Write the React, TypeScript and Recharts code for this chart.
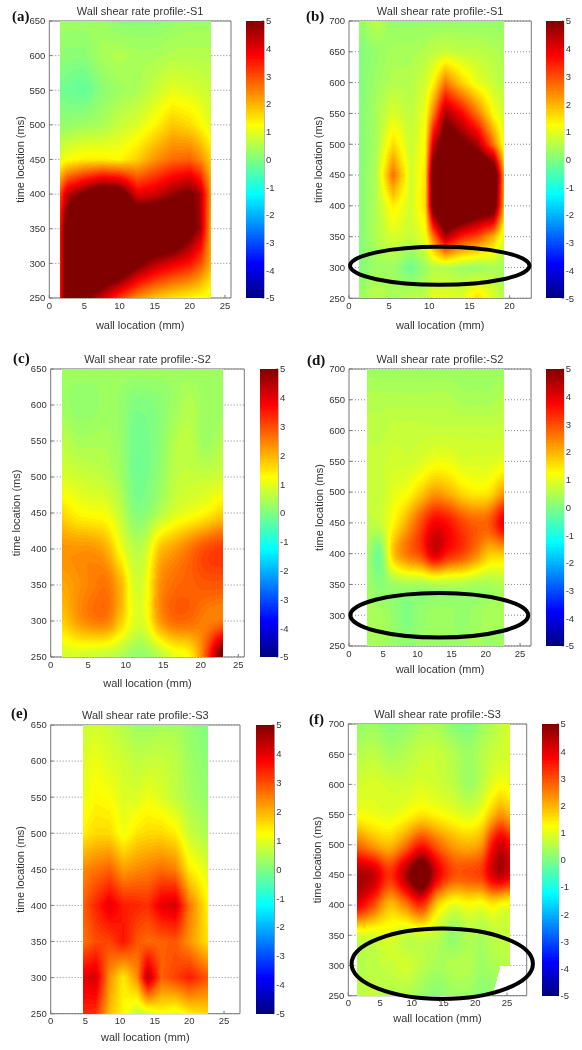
import { ScatterChart, Scatter, XAxis, YAxis, CartesianGrid } from "recharts";

const FONT = "'Liberation Sans', Arial, sans-serif";
const INK = "#333";
const FRAME = "#777";

// values, rows run from the top of each plot downwards
const timesTo650 = [650, 600, 550, 500, 450, 400, 350, 300, 250];
const timesTo700 = [700, 650, 600, 550, 500, 450, 400, 350, 300, 250];
const barLevels = [5, 4, 3, 2, 1, 0, -1, -2, -3, -4, -5];
const ticks650 = [250, 300, 350, 400, 450, 500, 550, 600, 650];
const ticks700 = [250, 300, 350, 400, 450, 500, 550, 600, 650, 700];
const wallTicks25 = [0, 5, 10, 15, 20, 25];
const wallTicks20 = [0, 5, 10, 15, 20];

const wallA = [1.5, 2.5, 5, 7.5, 10, 12.5, 15, 17.5, 20, 21.5, 23];
const rateA = [
  [0.3, 0.3, 0.3, 0.3, 0.1, 0.1, 0.1, 0.2, 0.3, 0.3, 0.3],
  [0.2, 0.1, 0.1, 0.4, 0.5, 0.4, 0.4, 0.5, 0.5, 0.5, 0.5],
  [-0.1, -0.2, -0.3, 0.1, 0.3, 0.4, 0.7, 1, 0.9, 0.8, 0.7],
  [0.2, 0.2, 0.3, 0.4, 0.7, 0.9, 1.3, 1.8, 1.6, 1.3, 0.9],
  [1, 1.2, 1.4, 1.4, 1.3, 1.7, 2.3, 2.7, 2.8, 2.4, 1.7],
  [3, 4.3, 5.2, 6, 5.8, 4, 4.2, 4.8, 5.2, 4.5, 2.2],
  [3.5, 6, 7, 7, 7, 7, 7, 7, 5.5, 4.6, 2],
  [3.5, 6, 7, 7, 6.5, 5.3, 4.5, 4, 3.6, 3, 2],
  [3.5, 6, 5.2, 4.2, 3.2, 2.3, 1.8, 1.5, 1.3, 1.2, 1],
];

const wallB = [1.2, 3.4, 5.5, 7.7, 9.5, 10.5, 12, 14, 16, 18, 19.3];
const rateB = [
  [0.2, 0.6, 0.2, 0.2, 0.2, 0.2, 0.2, 0.2, 0.2, 0.2, 0.2],
  [0, 0.2, 0.4, 0.4, 0.5, 0.6, 0.7, 0.6, 0.6, 0.5, 0.4],
  [0, 0.3, 0.5, 0.5, 0.8, 1.3, 2.6, 1.7, 1, 0.7, 0.5],
  [0, 0.4, 0.9, 0.6, 1.1, 2.5, 4.6, 3.8, 2.6, 1.2, 0.8],
  [0, 0.4, 1.6, 0.7, 1.3, 4.2, 6, 5.3, 4.6, 2.6, 1],
  [0, 0.5, 2.7, 0.8, 1.5, 5.8, 7, 7, 6.8, 6.5, 2.2],
  [0, 0.5, 1.4, 0.8, 1.6, 5.6, 7, 7, 6.2, 6, 2],
  [0, 0.5, 0.9, 0.7, 1.1, 2.6, 4.6, 3.5, 3, 2, 0.9],
  [0, 0.3, 0.3, -0.2, 0.3, 0.5, 0.5, 0.3, 0.2, 0.4, 0.3],
  [0.3, 0.6, 0.4, 0.6, 0.6, 1, 1, 0.9, 1.6, 0.9, 0.5],
];

const wallC = [1.5, 3.5, 5.5, 7.5, 9.5, 11, 12.5, 14.5, 16.5, 18.5, 20.5, 23];
const rateC = [
  [0.3, 0.3, 0.3, 0.3, 0.3, 0.3, 0.3, 0.3, 0.3, 0.3, 0.3, 0.3],
  [0.3, 0.2, 0.2, 0.3, 0.2, 0, 0, 0.1, 0.3, 0.5, 0.3, 0.3],
  [0.6, 0.4, 0.4, 0.4, 0.2, -0.1, -0.1, 0.1, 0.5, 0.6, 0.3, 0.5],
  [0.9, 0.8, 0.7, 0.6, 0.3, -0.1, -0.1, 0.2, 0.6, 0.7, 0.7, 0.8],
  [1.6, 1.3, 1.2, 1.1, 0.6, 0.1, 0.1, 0.5, 0.9, 1.1, 1.3, 1.7],
  [2.3, 2.3, 2.3, 2, 1.1, 0.6, 0.7, 1.8, 2.2, 2.6, 3, 3.2],
  [2.1, 2.3, 2.5, 2.6, 1.9, 0.9, 1, 2.3, 2.7, 2.8, 2.9, 2.9],
  [1.7, 2.2, 2.5, 2.5, 1.7, 1, 1, 2.2, 2.7, 2.7, 2.5, 2.6],
  [0.8, 0.8, 0.7, 0.6, 0.4, 0.2, 0.2, 0.5, 1, 1.3, 2.8, 5.5],
];

const wallD = [2.6, 4.5, 6.5, 8.5, 10.5, 12.5, 14.5, 16.5, 18.5, 20.5, 22.6];
const rateD = [
  [0.3, 0.3, 0.3, 0.3, 0.3, 0.3, 0.3, 0.3, 0.3, 0.3, 0.3],
  [0.5, 0.5, 0.5, 0.5, 0.5, 0.5, 0.5, 0.4, 0.4, 0.4, 0.5],
  [0.6, 0.6, 0.7, 0.7, 0.7, 0.7, 0.7, 0.7, 0.7, 0.7, 0.7],
  [0.7, 0.7, 0.8, 0.8, 0.9, 1.1, 1.1, 0.9, 0.9, 0.9, 1],
  [0.7, 0.7, 1, 1.2, 1.7, 2.2, 2, 1.6, 1.4, 1.5, 2.2],
  [0.6, 0.7, 1.3, 2.1, 3, 3.8, 3.6, 3.1, 2.8, 2.9, 3.9],
  [0.4, -0.1, 1.8, 2.6, 3.1, 4.1, 3.5, 3.1, 2.5, 1.8, 1.8],
  [0.3, 0.1, 0.3, 0.4, 0.4, 0.5, 0.5, 0.5, 0.4, 0.4, 0.5],
  [0.4, 0.4, 0.2, 0, 0.2, 0.3, 0.3, 0.2, 0.3, 0.4, 0.4],
  [0.4, 0.4, 0.3, 0.2, 0.3, 0.3, 0.3, 0.3, 0.4, 0.3, 0.3],
];

const wallE = [4.6, 6.5, 8.5, 10.5, 12.5, 14, 16, 18, 20, 22.7];
const rateE = [
  [0.7, 0.8, 0.7, 0.5, 0.3, 0.3, 0.4, 0.4, 0.2, 0],
  [0.9, 1.1, 0.9, 0.8, 0.6, 0.7, 0.7, 0.6, 0.3, 0.1],
  [1, 1.3, 1.2, 0.9, 0.9, 1.1, 0.9, 0.6, 0.4, 0.2],
  [1.4, 1.6, 1.6, 1.1, 1.5, 1.6, 1.6, 1.4, 0.7, 0.4],
  [2.4, 2.6, 2.8, 2.2, 2.4, 2.5, 2.7, 2.5, 1.4, 0.9],
  [2.8, 3.4, 4, 3.5, 3.4, 3.3, 4, 4.2, 2.6, 1.3],
  [2.6, 3, 3.1, 3.6, 2.9, 2.7, 2.8, 2.9, 2.3, 1.5],
  [4, 4.2, 2.3, 1.4, 2.4, 4.5, 2.8, 3.1, 3.5, 2.9],
  [3.4, 3.3, 1.9, 1.3, 0.6, 0.8, 1.2, 1, 1.4, 1.6],
];

const wallF = [1.4, 4, 6.5, 9, 11.5, 14, 16.5, 19, 21, 22.7, 24, 25.4];
const rateF = [
  [0.2, 0.3, 0.1, 0.2, 0.4, 0.4, 0.1, 0, 0.3, 0.5, 0.7, 0.8],
  [0.5, 0.6, 0.4, 0.5, 0.7, 0.7, 0.5, 0.3, 0.5, 0.7, 0.8, 0.8],
  [0.8, 0.9, 0.8, 0.8, 0.9, 0.8, 0.6, 0.3, 0.6, 1, 1.2, 1.1],
  [1.2, 1.1, 1, 1.2, 1.5, 1.3, 1.1, 0.9, 1.2, 1.9, 2.3, 2],
  [2.7, 2.2, 1.9, 2.6, 3.5, 2.8, 2.2, 2, 2.3, 3.6, 4.2, 3.8],
  [4.6, 4.3, 3.3, 4.5, 5.8, 4, 3, 3, 3.2, 4.1, 4.4, 4],
  [3.9, 3, 1.9, 2.5, 3.3, 1.7, 1, 1.2, 1.1, 1.4, 1.2, 1.1],
  [0.9, 0.9, 1, 0.7, 0.8, 0.6, 0.2, 0.5, 0.4, 0.6, 0.7, 0.7],
  [0.5, 0.6, 0.7, 0.8, 0.6, 0.4, 0.5, 0.5, 0.3, 0.4, 0.5, 0.5],
  [0.6, 0.7, 0.5, 0.5, 0.3, 0.1, 0.3, 0.3, 0.1, 0.1, null, null],
];

type Grid = (number | null)[][];

function jet(v: number) {
  const t = (Math.max(-5, Math.min(5, v)) + 5) / 10;
  const ch = (c: number) => Math.round(255 * Math.max(0, Math.min(1, 1.5 - Math.abs(4 * t - c))));
  return `rgb(${ch(3)},${ch(2)},${ch(1)})`;
}

const spline = (p0: number, p1: number, p2: number, p3: number, t: number) =>
  0.5 * (2 * p1 + (p2 - p0) * t + (2 * p0 - 5 * p1 + 4 * p2 - p3) * t * t + (3 * p1 - p0 - 3 * p2 + p3) * t * t * t);

// smooth shading over the 4x4 neighbourhood of a patch, null when a neighbour is missing
function splineAt(grid: Grid, row: number, col: number, u: number, v: number) {
  const rows = [row - 1, row, row + 1, row + 2].map((r) => Math.max(0, Math.min(grid.length - 1, r)));
  const cols = [col - 1, col, col + 1, col + 2].map((k) => Math.max(0, Math.min(grid[0].length - 1, k)));
  const across: number[] = [];
  for (const r of rows) {
    const vals = cols.map((k) => grid[r][k]);
    if (vals.some((x) => x === null)) return null;
    const [p0, p1, p2, p3] = vals as number[];
    across.push(spline(p0, p1, p2, p3, u));
  }
  return spline(across[0], across[1], across[2], across[3], v);
}

// one data point paints the patch between itself and its right/lower neighbours (like shading interp)
function heatCell(wall: number[], times: number[], grid: Grid, pxX: number, pxY: number, band: number, smooth = false) {
  return function HeatCell(props: any) {
    const { cx, cy, payload } = props;
    const { col, row } = payload;
    if (col >= wall.length - 1 || row >= times.length - 1) return null;
    const w = (wall[col + 1] - wall[col]) * pxX;
    const h = (times[row] - times[row + 1]) * pxY;
    const corners = [grid[row][col], grid[row][col + 1], grid[row + 1][col], grid[row + 1][col + 1]];
    const gaps = corners.filter((c) => c === null).length;
    if (gaps > 1) return null;
    const a = corners[0] as number;
    const b = corners[1] as number;
    const c = corners[2] as number;
    const d = corners[3] === null ? b + c - a : (corners[3] as number);
    const cuts = corners[3] === null;
    const bands = new Map<string, string>();
    const left = Math.round(cx);
    const right = Math.round(cx + w);
    const top = Math.round(cy);
    const bottom = Math.round(cy + h);
    for (let py = top; py < bottom; py++) {
      let runStart = left;
      let runColor = "";
      for (let px = left; px <= right; px++) {
        let color = "";
        if (px < right) {
          const u = (px + 0.5 - cx) / w;
          const v = (py + 0.5 - cy) / h;
          if (!(cuts && u + v > 1)) {
            const soft = smooth ? splineAt(grid, row, col, u, v) : null;
            const raw = soft ?? a * (1 - u) * (1 - v) + b * u * (1 - v) + c * (1 - u) * v + d * u * v;
            color = jet(Math.round(raw / band) * band);
          }
        }
        if (color !== runColor) {
          if (runColor) {
            bands.set(runColor, (bands.get(runColor) || "") + `M${runStart} ${py}H${px}V${py + 1}H${runStart}z`);
          }
          runStart = px;
          runColor = color;
        }
      }
    }
    return (
      <g>
        {[...bands.entries()].map(([color, d2]) => (
          <path key={color} d={d2} fill={color} shapeRendering="crispEdges" />
        ))}
      </g>
    );
  };
}

function cellsOf(wall: number[], times: number[]) {
  return times.flatMap((y, row) => wall.map((x, col) => ({ x, y, col, row })));
}

function Heatmap(p: any) {
  const chartLeft = p.yLabelX - 7;
  const chartTop = p.y0 - 20;
  const width = p.x1 - chartLeft + 10;
  const height = p.xLabelY + 10 - chartTop;
  const plotW = p.x1 - p.x0;
  const plotH = p.y1 - p.y0;
  const yMin = 250;
  const yMax = p.times[0];
  const pxX = plotW / p.xMax;
  const pxY = plotH / (yMax - yMin);
  const tickStyle = { fontSize: 9.5, fontFamily: FONT, fill: INK };
  const titleStyle = { fontSize: 11, fontFamily: FONT, fill: INK };
  const oval = p.oval;
  return (
    <div style={{ position: "absolute", left: chartLeft, top: chartTop }}>
      <ScatterChart width={width} height={height} margin={{ top: 19, right: 9, bottom: 0, left: 0 }}>
        <XAxis
          type="number"
          dataKey="x"
          domain={[0, p.xMax]}
          ticks={p.xTicks}
          interval={0}
          height={p.xLabelY + 10 - p.y1}
          stroke={FRAME}
          tickSize={-3}
          tickMargin={7}
          tick={tickStyle}
          label={{ value: "wall location (mm)", position: "insideBottom", offset: 5, style: titleStyle }}
        />
        <YAxis
          type="number"
          dataKey="y"
          domain={[yMin, yMax]}
          ticks={p.yTicks}
          interval={0}
          width={p.x0 - chartLeft}
          stroke={FRAME}
          tickSize={-3}
          tickMargin={7}
          tick={tickStyle}
          label={{
            value: "time location (ms)",
            angle: -90,
            position: "insideLeft",
            offset: 7,
            style: { ...titleStyle, textAnchor: "middle" },
          }}
        />
        <XAxis
          xAxisId="top"
          orientation="top"
          type="number"
          dataKey="x"
          domain={[0, p.xMax]}
          ticks={p.xTicks}
          interval={0}
          height={1}
          stroke={FRAME}
          tickSize={-3}
          tickFormatter={() => ""}
          label={{ value: p.title, position: "top", offset: 5, style: titleStyle }}
        />
        <YAxis
          yAxisId="right"
          orientation="right"
          type="number"
          dataKey="y"
          domain={[yMin, yMax]}
          ticks={p.yTicks}
          interval={0}
          width={1}
          stroke={FRAME}
          tickSize={-3}
          tickFormatter={() => ""}
        />
        <Scatter
          data={cellsOf(p.wall, p.times)}
          isAnimationActive={false}
          shape={heatCell(p.wall, p.times, p.rate, pxX, pxY, 0.1, p.smooth)}
        />
        <CartesianGrid vertical={false} stroke="#555" strokeOpacity={0.7} strokeDasharray="1 2" />
        {oval && (
          <Scatter
            data={[oval]}
            isAnimationActive={false}
            shape={(s: any) => (
              <ellipse
                cx={s.cx}
                cy={s.cy}
                rx={oval.spanX * pxX}
                ry={oval.spanY * pxY}
                fill="none"
                stroke="#000"
                strokeWidth={4}
              />
            )}
          />
        )}
      </ScatterChart>
    </div>
  );
}

function ColorBar(p: { x0: number; x1: number; y0: number; y1: number }) {
  const wall = [0, 1];
  const grid = barLevels.map((l) => [l, l]);
  const pxX = p.x1 - p.x0;
  const pxY = (p.y1 - p.y0) / 10;
  return (
    <div style={{ position: "absolute", left: p.x0, top: p.y0 - 6 }}>
      <ScatterChart width={p.x1 - p.x0 + 20} height={p.y1 - p.y0 + 12} margin={{ top: 6, right: 0, bottom: 6, left: 0 }}>
        <XAxis type="number" dataKey="x" domain={[0, 1]} hide />
        <YAxis
          orientation="right"
          type="number"
          dataKey="y"
          domain={[-5, 5]}
          ticks={barLevels}
          interval={0}
          width={20}
          stroke={FRAME}
          tickSize={-2}
          tickMargin={4}
          tick={{ fontSize: 9.5, fontFamily: FONT, fill: INK }}
        />
        <Scatter
          data={cellsOf(wall, barLevels)}
          isAnimationActive={false}
          shape={heatCell(wall, barLevels, grid, pxX, pxY, 0.05)}
        />
      </ScatterChart>
    </div>
  );
}

function Letter({ text, x, y }: { text: string; x: number; y: number }) {
  return (
    <div
      style={{
        position: "absolute",
        left: x,
        top: y - 9,
        font: "bold 15px/18px 'Liberation Serif', serif",
        color: "#111",
      }}
    >
      {text}
    </div>
  );
}

const panels = [
  { key: "a", title: "Wall shear rate profile:-S1", wall: wallA, times: timesTo650, rate: rateA, xMax: 25.85, xTicks: wallTicks25, yTicks: ticks650, x0: 49.3, x1: 231, y0: 20.7, y1: 297.7, yLabelX: 20, xLabelY: 324, bar: [246, 264], letter: [12, 16] },
  { key: "b", title: "Wall shear rate profile:-S1", wall: wallB, times: timesTo700, rate: rateB, xMax: 22.7, xTicks: wallTicks20, yTicks: ticks700, x0: 348.7, x1: 531, y0: 20.7, y1: 298, yLabelX: 317.7, xLabelY: 324, bar: [546, 563.7], letter: [306, 16], oval: { x: 11.3, y: 302.7, spanX: 11.17, spanY: 30.8 } },
  { key: "c", title: "Wall shear rate profile:-S2", wall: wallC, times: timesTo650, rate: rateC, xMax: 25.8, xTicks: wallTicks25, yTicks: ticks650, x0: 50.7, x1: 244.3, y0: 369.3, y1: 657.3, yLabelX: 16, xLabelY: 682, bar: [260, 278], letter: [13, 358], smooth: true },
  { key: "d", title: "Wall shear rate profile:-S2", wall: wallD, times: timesTo700, rate: rateD, xMax: 26.6, xTicks: wallTicks25, yTicks: ticks700, x0: 349, x1: 531, y0: 368.7, y1: 645.7, yLabelX: 319, xLabelY: 667.7, bar: [546, 563.7], letter: [307, 360], oval: { x: 13.2, y: 300, spanX: 13, spanY: 36.2 }, smooth: true },
  { key: "e", title: "Wall shear rate profile:-S3", wall: wallE, times: timesTo650, rate: rateE, xMax: 27.3, xTicks: wallTicks25, yTicks: ticks650, x0: 50.7, x1: 240, y0: 725, y1: 1013.7, yLabelX: 20, xLabelY: 1035.7, bar: [255.7, 274], letter: [11, 713] },
  { key: "f", title: "Wall shear rate profile:-S3", wall: wallF, times: timesTo700, rate: rateF, xMax: 28.1, xTicks: wallTicks25, yTicks: ticks700, x0: 348.3, x1: 526.7, y0: 724, y1: 995.7, yLabelX: 317, xLabelY: 1017, bar: [541.7, 558.3], letter: [309, 719], oval: { x: 14.8, y: 303, spanX: 14.28, spanY: 58.3 }, smooth: true },
];

export default function App() {
  return (
    <div style={{ position: "absolute", left: 0, top: 0, width: 582, height: 1050, background: "#fff", overflow: "hidden", filter: "blur(0.5px)" }}>
      {panels.map((p) => (
        <div key={p.key}>
          <Heatmap {...p} />
          <ColorBar x0={p.bar[0]} x1={p.bar[1]} y0={p.y0} y1={p.y1} />
          <Letter text={`(${p.key})`} x={p.letter[0]} y={p.letter[1]} />
        </div>
      ))}
    </div>
  );
}
